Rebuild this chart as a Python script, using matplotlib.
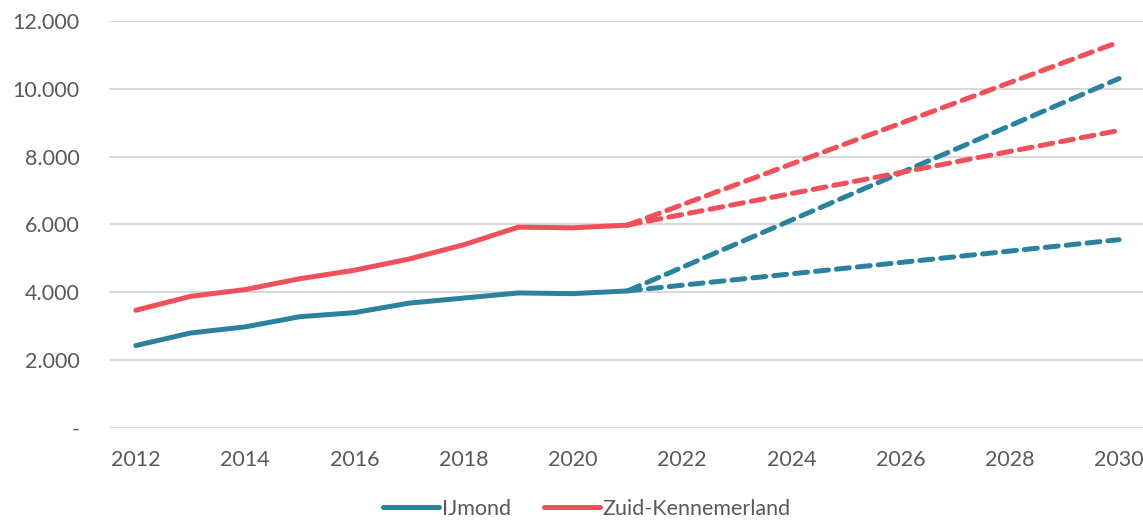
import numpy as np
import matplotlib.pyplot as plt
from matplotlib.ticker import FuncFormatter

# --- data ---
years = [2012, 2013, 2014, 2015, 2016, 2017, 2018, 2019, 2020, 2021]
ijmond = [2430, 2800, 2980, 3280, 3400, 3680, 3830, 3980, 3960, 4040]
zuid_kennemerland = [3470, 3880, 4080, 4400, 4650, 4980, 5400, 5920, 5900, 5980]

proj_years = [2021, 2030]
ijmond_high = [4040, 10300]
ijmond_low = [4040, 5550]
zk_high = [5980, 11380]
zk_low = [5980, 8770]

teal = '#2A829F'
red = '#EF5059'

plt.rcParams['font.family'] = ['Lato', 'DejaVu Sans']

fig = plt.figure(figsize=(11.43, 5.21), dpi=100)
ax = fig.add_axes([0.095, 0.1785, 0.908, 0.7815])

lw = 3.6
ax.plot(years, ijmond, color=teal, lw=lw, solid_capstyle='round', label='IJmond')
ax.plot(years, zuid_kennemerland, color=red, lw=lw, solid_capstyle='round',
        label='Zuid-Kennemerland')

for vals, c in [(ijmond_high, teal), (ijmond_low, teal), (zk_high, red), (zk_low, red)]:
    ax.plot(proj_years, vals, color=c, lw=lw, ls=(0, (2.6, 1.6)), dash_capstyle='round')

ax.set_xlim(2011.5, 2030.5)
ax.set_ylim(0, 12000)
ax.set_xticks(range(2012, 2031, 2))
ax.set_yticks(range(0, 12001, 2000))
ax.yaxis.set_major_formatter(FuncFormatter(
    lambda v, p: '-' if v == 0 else f'{int(v):,}'.replace(',', '.')))

ax.grid(axis='y', color='#d9d9d9', lw=1.5)
ax.set_axisbelow(True)
for s in ax.spines.values():
    s.set_visible(False)
ax.tick_params(length=0, labelsize=15.5, colors='#595959')
ax.tick_params(axis='y', pad=21)
ax.tick_params(axis='x', pad=16)

ax.legend(loc='center', bbox_to_anchor=(0.461, -0.198), ncol=2, frameon=False,
          fontsize=15.5, labelcolor='#595959', handlelength=2.6, handletextpad=0.15,
          columnspacing=1.5, borderpad=0.2)

fig.savefig('out.png', dpi=100)
